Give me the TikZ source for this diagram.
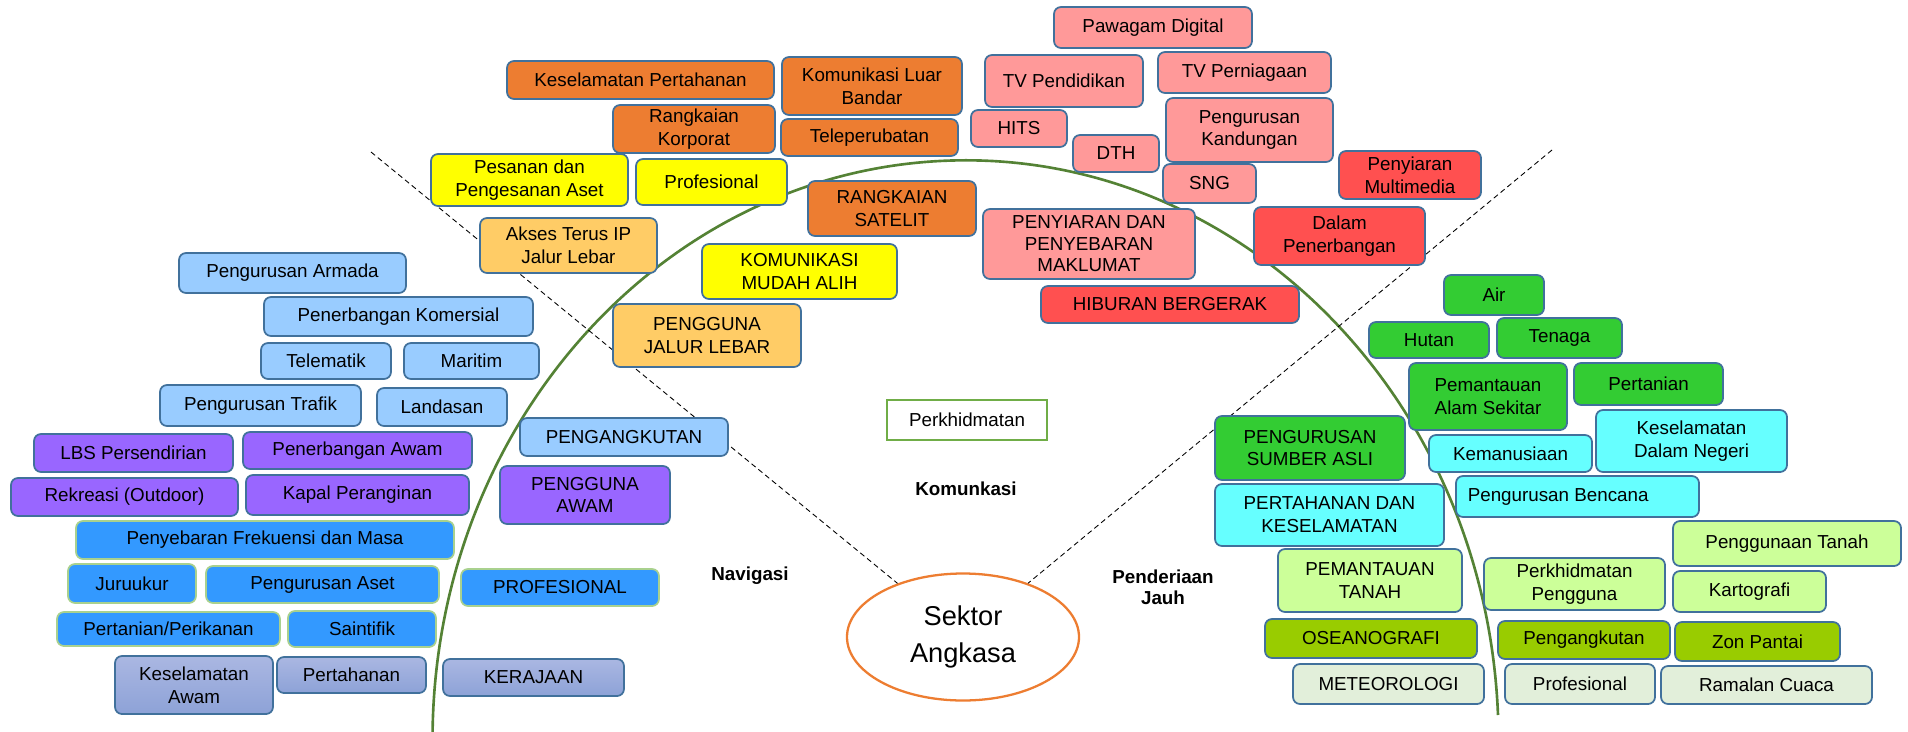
\documentclass[tikz,border=0pt]{standalone}
\usepackage{fontspec}
\setmainfont{Liberation Sans}
\usepackage{tikz}
\usetikzlibrary{shapes.geometric, positioning, calc}
\definecolor{boxline}{HTML}{41719C}
\definecolor{arcgreen}{HTML}{548235}
\definecolor{edgegreen}{HTML}{70AD47}
\definecolor{paleedge}{HTML}{A9D18E}
\definecolor{satorange}{HTML}{ED7D31}
\definecolor{mobyellow}{HTML}{FFFF00}
\definecolor{bandorange}{HTML}{FFCC66}
\definecolor{castpink}{HTML}{FF9999}
\definecolor{castred}{HTML}{FF5050}
\definecolor{navlight}{HTML}{99CCFF}
\definecolor{navpurple}{HTML}{9966FF}
\definecolor{navblue}{HTML}{3399FF}
\definecolor{govtop}{HTML}{AAB7E2}
\definecolor{govbot}{HTML}{8DA2D7}
\definecolor{sensgreen}{HTML}{33CC33}
\definecolor{senscyan}{HTML}{66FFFF}
\definecolor{senslime}{HTML}{CCFF99}
\definecolor{sensolive}{HTML}{99CC00}
\definecolor{senspale}{HTML}{E2EFDA}
\newcommand\boxfont{\fontsize{10.7}{13}\selectfont}
\tikzset{
  box/.style={draw=boxline, rounded corners=4pt, line width=1pt, align=center, inner sep=0pt, font=\boxfont},
  sz/.style 2 args={minimum width=#1*0.02cm, minimum height=#2*0.02cm},
  orbox/.style={box, fill=satorange},
  ylbox/.style={box, fill=mobyellow},
  lobox/.style={box, fill=bandorange},
  pkbox/.style={box, fill=castpink},
  rdbox/.style={box, fill=castred},
  lbbox/.style={box, fill=navlight},
  ppbox/.style={box, fill=navpurple},
  bubox/.style={box, fill=navblue, draw=paleedge},
  gvbox/.style={box, top color=govtop, bottom color=govbot},
  grbox/.style={box, fill=sensgreen},
  cybox/.style={box, fill=senscyan},
  lgbox/.style={box, fill=senslime},
  olbox/.style={box, fill=sensolive},
  pabox/.style={box, fill=senspale},
  sector/.style={font=\boxfont\bfseries, align=center, inner sep=0pt},
  divider/.style={densely dashed, line width=0.5pt}
}
\begin{document}
\begin{tikzpicture}[x=0.02cm, y=-0.02cm]
    \useasboundingbox (0,0) rectangle (1908,731);
    % boundary arc and the hub
    \draw[arcgreen, line width=1.5pt] (1498,715) arc[start angle=-2.5, end angle=-181, x radius=533, y radius=580];
    \node[draw=satorange, line width=1.3pt, ellipse, sz={232}{127}, align=center, inner sep=0pt,
          font=\fontsize{15.5}{21}\selectfont] (sektor) at (963,637) {Sektor\\Angkasa};
    \coordinate (navtip) at (371,152);
    \coordinate (senstip) at (1552,150);
    \draw[divider] (navtip) -- (sektor);
    \draw[divider] (senstip) -- (sektor);

    % sector labels
    \node[sector] (komlabel) at (966,489) {Komunkasi};
    \node[sector] (navlabel) at (750,576) {Navigasi};
    \node[sector, font=\fontsize{10.7}{12}\selectfont\bfseries] (senslabel) at (1163,587) {Penderiaan\\Jauh};
    \node[draw=edgegreen, line width=1.3pt, sz={160}{40}, font=\boxfont, inner sep=0pt] (perkh) at (967,420) {Perkhidmatan\hspace{14pt}};

    % Komunikasi
    \node[orbox, sz={267}{38}] (kesper) at (640.5,80) {Keselamatan Pertahanan};
    \node[orbox, sz={162}{48}] (rangkor) at (694,129) {Rangkaian\\Korporat};
    \node[orbox, sz={180}{58}] (luarbandar) at (872,86) {Komunikasi Luar\\Bandar};
    \node[orbox, sz={177}{37}] (teleper) at (869.5,137.5) {Teleperubatan};
    \node[ylbox, sz={197}{52}] (pesanan) at (529.5,180) {Pesanan dan\\Pengesanan Aset};
    \node[ylbox, sz={151}{46}] (profkom) at (711.5,182) {Profesional};
    \node[lobox, sz={177}{55}] (akses) at (568.5,245.5) {Akses Terus IP\\Jalur Lebar};
    \node[lobox, sz={188}{63}] (jalurlebar) at (707,335.5) {PENGGUNA\\JALUR LEBAR};
    \node[orbox, sz={168}{55}] (satelit) at (892,208.5) {RANGKAIAN\\SATELIT};
    \node[ylbox, sz={195}{55}] (mudahalih) at (799.5,271.5) {KOMUNIKASI\\MUDAH ALIH};
    \node[pkbox, sz={198}{41}] (pawagam) at (1153,27.5) {Pawagam Digital};
    \node[pkbox, sz={158}{52}] (tvpend) at (1064,81) {TV Pendidikan};
    \node[pkbox, sz={173}{41}] (tvniaga) at (1244.5,72.5) {TV Perniagaan};
    \node[pkbox, sz={96}{37}] (hits) at (1019,128.5) {HITS};
    \node[pkbox, sz={86}{37}] (dth) at (1116,153.5) {DTH};
    \node[pkbox, sz={167}{64}] (kandungan) at (1249.5,130) {Pengurusan\\Kandungan};
    \node[pkbox, sz={93}{39}] (sng) at (1209.5,183.5) {SNG};
    \node[pkbox, sz={212}{70}, font=\fontsize{10.7}{12.2}\selectfont] (penyiaran) at (1089,244) {PENYIARAN DAN\\PENYEBARAN\\MAKLUMAT};
    \node[rdbox, sz={258}{37}] (hiburan) at (1170,304.5) {HIBURAN BERGERAK};
    \node[rdbox, sz={142}{48}] (multimedia) at (1410,175) {Penyiaran\\Multimedia};
    \node[rdbox, sz={171}{58}] (dalampen) at (1339.5,236) {Dalam\\Penerbangan};

    % Navigasi
    \node[lbbox, sz={227}{40}] (armada) at (292.5,273) {Pengurusan Armada};
    \node[lbbox, sz={269}{39}] (komersial) at (398.5,316.5) {Penerbangan Komersial};
    \node[lbbox, sz={130}{36}] (telematik) at (326,361) {Telematik};
    \node[lbbox, sz={135}{36}] (maritim) at (471.5,361) {Maritim};
    \node[lbbox, sz={201}{41}] (trafik) at (260.5,405.5) {Pengurusan Trafik};
    \node[lbbox, sz={130}{38}] (landasan) at (442,407) {Landasan};
    \node[lbbox, sz={208}{38}] (angkut) at (624,437) {PENGANGKUTAN};
    \node[ppbox, sz={199}{38}] (lbs) at (133.5,453) {LBS Persendirian};
    \node[ppbox, sz={229}{37}] (penawam) at (357.5,450.5) {Penerbangan Awam};
    \node[ppbox, sz={227}{38}] (rekreasi) at (124.5,497) {Rekreasi (Outdoor)};
    \node[ppbox, sz={223}{40}] (kapal) at (357.5,495) {Kapal Peranginan};
    \node[ppbox, sz={170}{58}] (awam) at (585,495) {PENGGUNA\\AWAM};
    \node[bubox, sz={378}{38}] (frekuensi) at (265,540) {Penyebaran Frekuensi dan Masa};
    \node[bubox, sz={128}{39}] (juruukur) at (132,583.5) {Juruukur};
    \node[bubox, sz={233}{37}] (aset) at (322.5,584.5) {Pengurusan Aset};
    \node[bubox, sz={198}{37}] (profnav) at (560,587.5) {PROFESIONAL};
    \node[bubox, sz={223}{34}] (perikanan) at (168.5,629) {Pertanian/Perikanan};
    \node[bubox, sz={148}{36}] (saintifik) at (362,629) {Saintifik};
    \node[gvbox, sz={158}{58}] (keswam) at (194,685) {Keselamatan\\Awam};
    \node[gvbox, sz={149}{36}] (pertahanan) at (351.5,675) {Pertahanan};
    \node[gvbox, sz={181}{37}] (kerajaan) at (533.5,677.5) {KERAJAAN};

    % Penderiaan Jauh
    \node[grbox, sz={100}{40}] (air) at (1494,295) {Air};
    \node[grbox, sz={120}{36}] (hutan) at (1429,340) {Hutan};
    \node[grbox, sz={125}{40}] (tenaga) at (1559.5,338) {Tenaga};
    \node[grbox, sz={158}{67}] (alam) at (1488,396.5) {Pemantauan\\Alam Sekitar};
    \node[grbox, sz={149}{42}] (pertanian) at (1648.5,384) {Pertanian};
    \node[grbox, sz={190}{64}] (sumber) at (1310,448) {PENGURUSAN\\SUMBER ASLI};
    \node[cybox, sz={163}{37}] (kemanusiaan) at (1510.5,453.5) {Kemanusiaan};
    \node[cybox, sz={191}{62}] (dalamnegeri) at (1691.5,441) {Keselamatan\\Dalam Negeri};
    \node[cybox, sz={229}{62}] (pertkes) at (1329.5,515) {PERTAHANAN DAN\\KESELAMATAN};
    \node[cybox, sz={243}{41}] (bencana) at (1577.5,496.5) {Pengurusan Bencana\hspace{22pt}};
    \node[lgbox, sz={228}{45}] (gunatanah) at (1787,543.5) {Penggunaan Tanah};
    \node[lgbox, sz={184}{63}] (pemtanah) at (1370,580.5) {PEMANTAUAN\\TANAH};
    \node[lgbox, sz={181}{52}] (pengguna) at (1574.5,584) {Perkhidmatan\\Pengguna};
    \node[lgbox, sz={153}{41}] (kartografi) at (1749.5,591.5) {Kartografi};
    \node[olbox, sz={212}{39}] (oseano) at (1371,638.5) {OSEANOGRAFI};
    \node[olbox, sz={172}{38}] (angkutrs) at (1584,640) {Pengangkutan};
    \node[olbox, sz={165}{39}] (zonpantai) at (1757.5,641.5) {Zon Pantai};
    \node[pabox, sz={191}{40}] (meteo) at (1388.5,684) {METEOROLOGI};
    \node[pabox, sz={150}{40}] (profrs) at (1580,684) {Profesional};
    \node[pabox, sz={211}{38}] (cuaca) at (1766.5,685) {Ramalan Cuaca};
\end{tikzpicture}
\end{document}
